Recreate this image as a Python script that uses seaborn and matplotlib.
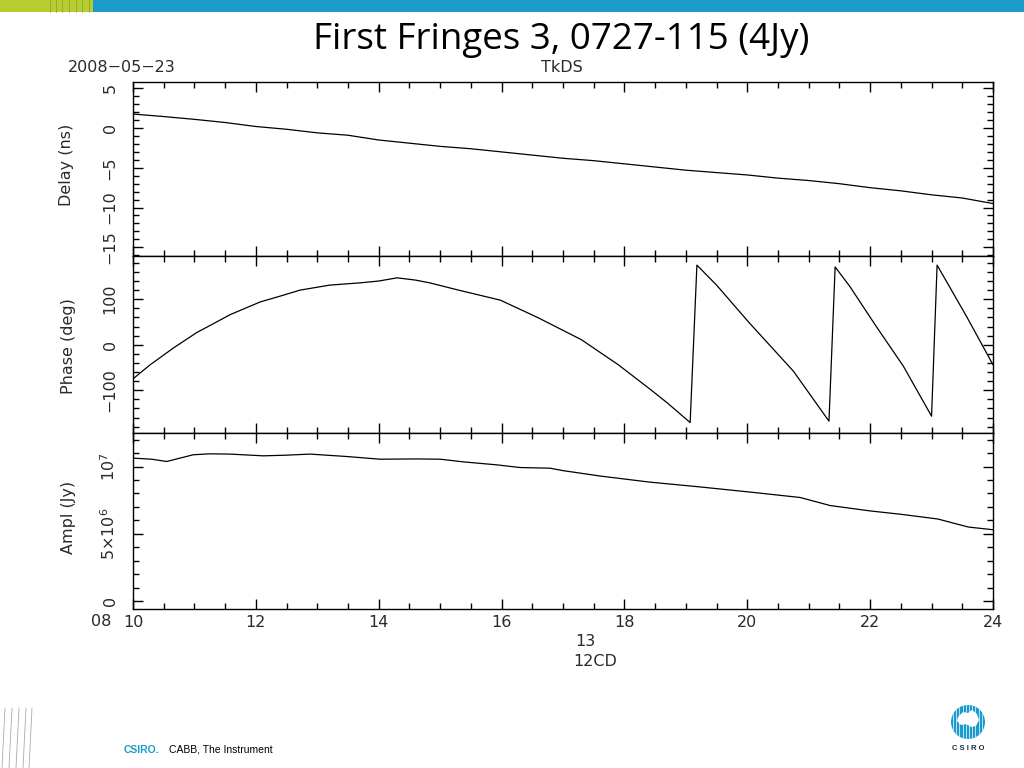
import numpy as np
import pandas as pd
import matplotlib
matplotlib.use("Agg")
import matplotlib.pyplot as plt
from matplotlib.patches import Circle, Rectangle
from matplotlib.ticker import MultipleLocator, FixedLocator
import seaborn as sns

# data (time in hours, day 13)
delay_t = [10.0, 10.5, 11.0, 11.5, 12.0, 12.5, 13.0, 13.5, 14.0, 14.5, 15.0, 15.5,
           16.0, 16.5, 17.0, 17.5, 18.0, 18.5, 19.0, 19.5, 20.0, 20.5, 21.0, 21.5,
           22.0, 22.5, 23.0, 23.5, 24.0]
delay_ns = [1.77, 1.45, 1.1, 0.7, 0.2, -0.15, -0.6, -0.9, -1.5, -1.9, -2.3, -2.6,
            -3.0, -3.4, -3.8, -4.1, -4.5, -4.9, -5.3, -5.6, -5.9, -6.3, -6.6, -7.0,
            -7.5, -7.9, -8.4, -8.8, -9.5]

phase_t = [10.0, 10.28, 10.66, 11.04, 11.25, 11.58, 12.07, 12.4, 12.72, 13.2, 13.7,
           14.0, 14.3, 14.6, 14.83, 15.3, 15.98, 16.6, 17.3, 17.9, 18.42, 18.69, 19.07,
           19.18, 19.5, 20.04, 20.75, 21.33, 21.43, 21.67, 22.1, 22.54, 23.0, 23.09,
           23.57, 24.0]
phase_deg = [-75, -44, -7, 27, 42, 66, 94, 107, 120, 131, 136, 140, 147, 142, 136, 120,
             98, 59, 11, -44, -98, -127, -171, 175, 131, 47, -58, -168, 171, 128, 40,
             -47, -157, 175, 62, -44]

ampl_t = [10.0, 10.3, 10.55, 10.98, 11.25, 11.58, 12.12, 12.5, 12.88, 13.48, 14.02,
          14.62, 15.0, 15.38, 15.92, 16.3, 16.79, 17.0, 17.6, 18.4, 19.2, 20.05, 20.86,
          21.35, 22.0, 22.5, 23.1, 23.6, 24.0]
ampl_jy = [10.63e6, 10.55e6, 10.38e6, 10.88e6, 10.95e6, 10.93e6, 10.8e6, 10.85e6,
           10.93e6, 10.75e6, 10.55e6, 10.57e6, 10.55e6, 10.35e6, 10.13e6, 9.93e6,
           9.88e6, 9.7e6, 9.3e6, 8.85e6, 8.5e6, 8.1e6, 7.7e6, 7.1e6, 6.7e6, 6.45e6,
           6.1e6, 5.5e6, 5.3e6]

x_ticks = [10, 12, 14, 16, 18, 20, 22, 24]

sns.set_style("ticks")
plt.rcParams["font.family"] = ["DejaVu Sans"]

FS = 11.5
TXT = "#2a2a2a"

fig = plt.figure(figsize=(10.24, 7.68), dpi=100)

L, W = 133 / 1024, 860 / 1024
def box(top, bot):
    return [L, 1 - bot / 768, W, (bot - top) / 768]

ax1 = fig.add_axes(box(82, 256))
ax2 = fig.add_axes(box(256, 433))
ax3 = fig.add_axes(box(433, 609))

panels = [
    (ax1, delay_t, delay_ns, (-16.1, 5.8), 1, [-15, -10, -5, 0, 5], None),
    (ax2, phase_t, phase_deg, (-194, 195), 20, [-100, 0, 100], None),
    (ax3, ampl_t, ampl_jy, (-0.6e6, 12.5e6), 1e6, [0, 5e6, 1e7],
     ["0", r"$5{\times}10^6$", r"$10^7$"]),
]

for ax, tx, ty, ylim, minor, yt, ylab in panels:
    df = pd.DataFrame({"t": tx, "v": ty})
    sns.lineplot(data=df, x="t", y="v", ax=ax, color="black", linewidth=0.9,
                 estimator=None, sort=False)
    ax.set_xlim(10, 24)
    ax.set_ylim(*ylim)
    ax.set_xlabel("")
    ax.set_ylabel("")
    ax.xaxis.set_major_locator(FixedLocator(x_ticks))
    ax.xaxis.set_minor_locator(MultipleLocator(0.5))
    ax.yaxis.set_major_locator(FixedLocator(yt))
    ax.yaxis.set_minor_locator(MultipleLocator(minor))
    ax.tick_params(which="both", direction="in", top=True, right=True, color="black",
                   width=1.0, labelsize=FS, labelcolor=TXT)
    ax.tick_params(which="major", length=7.5)
    ax.tick_params(which="minor", length=4)
    ax.tick_params(axis="y", labelrotation=90, pad=11)
    if ylab is not None:
        ax.set_yticklabels(ylab)
    for lab in ax.get_yticklabels():
        lab.set_verticalalignment("center")
    for s in ax.spines.values():
        s.set_linewidth(1.0)
        s.set_color("black")
    if ax is not ax3:
        ax.tick_params(axis="x", labelbottom=False)

ax3.tick_params(axis="x", pad=4.5)

# axis texts
fig.text(67 / 1024, 1 - 165 / 768, "Delay (ns)", rotation=90, ha="center", va="center",
         fontsize=FS, color=TXT)
fig.text(68 / 1024, 1 - 346 / 768, "Phase (deg)", rotation=90, ha="center", va="center",
         fontsize=FS, color=TXT)
fig.text(68 / 1024, 1 - 517 / 768, "Ampl (Jy)", rotation=90, ha="center", va="center",
         fontsize=FS, color=TXT)
fig.text(101 / 1024, 1 - 622 / 768, "08", ha="center", va="center", fontsize=FS, color=TXT)
fig.text(585 / 1024, 1 - 641 / 768, "13", ha="center", va="center", fontsize=FS, color=TXT)
fig.text(573 / 1024, 1 - 662 / 768, "12CD", ha="left", va="center", fontsize=FS, color=TXT)
fig.text(68 / 1024, 1 - 68 / 768, "2008\u221205\u221223", ha="left", va="center",
         fontsize=FS, color=TXT)
fig.text(562 / 1024, 1 - 68 / 768, "TkDS", ha="center", va="center", fontsize=FS,
         color=TXT)
fig.text(561 / 1024, 1 - 40 / 768, "First Fringes 3, 0727-115 (4Jy)", ha="center",
         va="center", fontsize=26.5, family="Open Sans", color="black")

# slide decoration overlay
deco = fig.add_axes([0, 0, 1, 1], zorder=-1)
deco.set_xlim(0, 1024)
deco.set_ylim(768, 0)
deco.axis("off")
deco.add_patch(Rectangle((0, 0), 93, 12, color="#b7cc2e", lw=0))
deco.add_patch(Rectangle((93, 0), 931, 12, color="#1b9bcc", lw=0))
for xv in [50, 56, 62, 69, 76, 82, 89]:
    deco.plot([xv, xv], [0, 12], color="#8fa52a", lw=0.6)
for x0 in [2, 9, 16, 23, 29]:
    deco.plot([x0 + 3, x0], [708, 768], color="#aaaaaa", lw=0.6)
deco.text(124, 750, "CSIRO.", color="#1b9bcc", fontsize=7.5, fontweight="bold",
          family="Liberation Sans", va="center", ha="left")
deco.text(169, 750, "CABB, The Instrument", color="black", fontsize=7.5,
          family="Liberation Sans", va="center", ha="left")
circ = Circle((968, 722), 17, color="#1b9bcc", lw=0)
deco.add_patch(circ)
for xv in np.arange(953, 985, 3.2):
    ln, = deco.plot([xv, xv], [704, 740], color="white", lw=0.5)
    ln.set_clip_path(circ)
deco.fill([958, 963, 968, 972, 977, 979, 976, 971, 966, 961, 957],
          [717, 712, 713, 710, 714, 720, 726, 727, 724, 725, 721],
          color="white", lw=0)
deco.text(968, 748, "C S I R O", color="#1a2a3a", fontsize=5.5, fontweight="bold",
          family="Liberation Sans", ha="center", va="center")

fig.savefig("out.png", dpi=100)
